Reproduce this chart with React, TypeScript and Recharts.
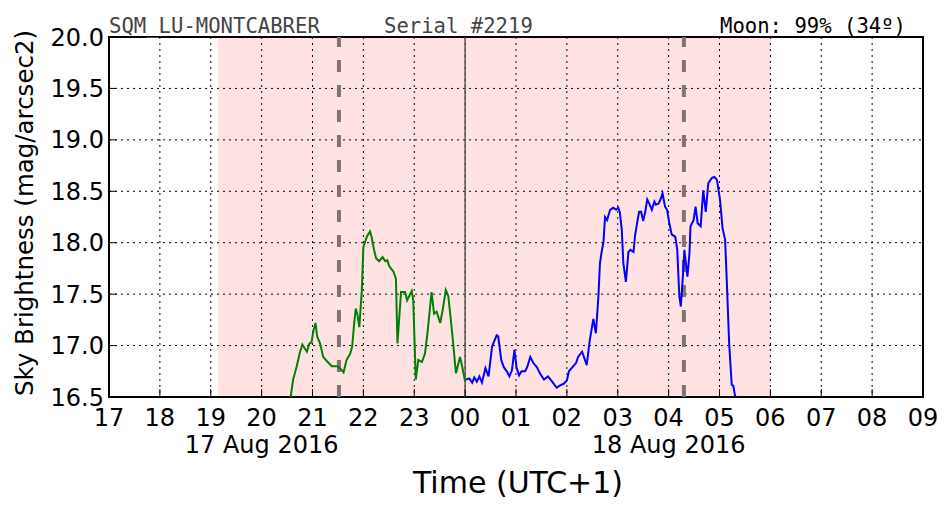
import { LineChart, Line, XAxis, YAxis, CartesianGrid, ReferenceArea, ReferenceLine } from 'recharts'

// hours counted from midnight of 17 Aug (24 = 00h on 18 Aug)
const hourTicks = [17, 18, 19, 20, 21, 22, 23, 24, 25, 26, 27, 28, 29, 30, 31, 32, 33]
const magTicks = [16.5, 17.0, 17.5, 18.0, 18.5, 19.0, 19.5, 20.0]
const dateTicks = [20, 28]
const dateLabels = ['17 Aug 2016', '18 Aug 2016']

const nightStart = 19.14
const nightEnd = 30.0
const moonMarks = [21.52, 28.3]
const midnight = 24

const greenTimes = [20.57, 20.62, 20.69, 20.75, 20.8, 20.89, 20.94, 20.98, 21.02, 21.06, 21.09, 21.15, 21.21, 21.28, 21.38, 21.48, 21.54, 21.61, 21.67, 21.74, 21.78, 21.82, 21.85, 21.88, 21.92, 21.97, 22.0, 22.07, 22.13, 22.16, 22.21, 22.25, 22.31, 22.38, 22.43, 22.47, 22.51, 22.59, 22.64, 22.67, 22.74, 22.82, 22.86, 22.95, 22.98, 23.03, 23.08, 23.15, 23.21, 23.26, 23.34, 23.39, 23.44, 23.51, 23.56, 23.62, 23.67, 23.74, 23.82, 23.9, 23.94, 24.0]
const greenValues = [16.5, 16.67, 16.8, 16.93, 17.01, 16.94, 17.02, 17.03, 17.15, 17.22, 17.09, 17.02, 16.89, 16.85, 16.8, 16.8, 16.78, 16.74, 16.86, 16.92, 16.99, 17.22, 17.36, 17.31, 17.18, 17.54, 17.96, 18.06, 18.11, 18.06, 17.93, 17.85, 17.82, 17.86, 17.82, 17.83, 17.77, 17.72, 17.65, 17.02, 17.52, 17.52, 17.44, 17.53, 17.44, 16.67, 16.86, 16.84, 16.92, 17.12, 17.52, 17.31, 17.33, 17.22, 17.35, 17.54, 17.48, 17.15, 16.73, 16.89, 16.8, 16.65]

const blueTimes = [24.02, 24.08, 24.14, 24.18, 24.23, 24.28, 24.33, 24.4, 24.46, 24.53, 24.57, 24.62, 24.65, 24.71, 24.76, 24.82, 24.87, 24.92, 24.97, 25.01, 25.06, 25.11, 25.18, 25.22, 25.28, 25.34, 25.41, 25.47, 25.55, 25.63, 25.71, 25.8, 25.86, 25.94, 26.0, 26.04, 26.11, 26.18, 26.22, 26.3, 26.39, 26.45, 26.52, 26.57, 26.62, 26.65, 26.68, 26.72, 26.75, 26.79, 26.85, 26.91, 26.97, 27.01, 27.04, 27.08, 27.11, 27.16, 27.21, 27.25, 27.31, 27.34, 27.39, 27.42, 27.46, 27.5, 27.54, 27.58, 27.62, 27.67, 27.72, 27.75, 27.8, 27.84, 27.88, 27.93, 27.97, 28.01, 28.06, 28.13, 28.17, 28.21, 28.24, 28.28, 28.31, 28.34, 28.37, 28.41, 28.43, 28.49, 28.53, 28.57, 28.63, 28.68, 28.73, 28.78, 28.85, 28.9, 28.95, 29.01, 29.06, 29.11, 29.14, 29.19, 29.24, 29.27, 29.31]
const blueValues = [16.67, 16.68, 16.64, 16.69, 16.65, 16.7, 16.64, 16.78, 16.7, 16.99, 17.04, 17.1, 17.09, 16.86, 16.79, 16.75, 16.7, 16.76, 16.96, 16.79, 16.71, 16.75, 16.75, 16.79, 16.89, 16.83, 16.79, 16.73, 16.67, 16.7, 16.65, 16.59, 16.61, 16.63, 16.66, 16.75, 16.79, 16.83, 16.89, 16.94, 16.81, 17.05, 17.26, 17.12, 17.48, 17.8, 17.9, 18.01, 18.25, 18.22, 18.32, 18.34, 18.32, 18.34, 18.3, 18.12, 17.8, 17.62, 17.91, 17.93, 17.91, 18.07, 18.22, 18.3, 18.3, 18.21, 18.3, 18.42, 18.38, 18.32, 18.4, 18.37, 18.38, 18.42, 18.48, 18.35, 18.32, 18.2, 18.08, 18.06, 17.93, 17.48, 17.38, 17.67, 17.93, 17.8, 17.67, 17.9, 18.16, 18.22, 18.35, 18.19, 18.16, 18.51, 18.3, 18.58, 18.63, 18.64, 18.61, 18.42, 18.14, 18.03, 17.67, 17.02, 16.62, 16.61, 16.5]

const greenData = greenTimes.map((t, i) => ({ t, mag: greenValues[i] }))
const blueData = blueTimes.map((t, i) => ({ t, mag: blueValues[i] }))

const font = '"DejaVu Sans", sans-serif'
const mono = '"DejaVu Sans Mono", monospace'
const tickLen = 8

function HourTick(props: any) {
  const { x, y, payload } = props
  const h = payload.value
  const label = String(h % 24).padStart(2, '0')
  const di = dateTicks.indexOf(h)
  return (
    <g>
      <line x1={x} x2={x} y1={y} y2={y - tickLen} stroke="#000" strokeWidth={1} />
      <text x={x} y={y + 29} textAnchor="middle" fontSize={24} fontFamily={font} fill="#000">{label}</text>
      {di >= 0 && (
        <text x={x} y={y + 56} textAnchor="middle" fontSize={24} fontFamily={font} fill="#000">{dateLabels[di]}</text>
      )}
    </g>
  )
}

function TopTick(props: any) {
  const { x, y } = props
  return <line x1={x} x2={x} y1={y} y2={y + tickLen} stroke="#000" strokeWidth={1} />
}

function MagTick(props: any) {
  const { x, y, payload } = props
  return (
    <g>
      <line x1={x} x2={x + tickLen} y1={y} y2={y} stroke="#000" strokeWidth={1} />
      <text x={x - 5} y={y} dy="0.355em" textAnchor="end" fontSize={24} fontFamily={font} fill="#000">
        {payload.value.toFixed(1)}
      </text>
    </g>
  )
}

function RightTick(props: any) {
  const { x, y } = props
  return <line x1={x} x2={x - tickLen} y1={y} y2={y} stroke="#000" strokeWidth={1} />
}

export default function App() {
  return (
    <div style={{ position: 'absolute', left: 0, top: 0, width: 952, height: 512, background: '#fff', fontFamily: font }}>
      <LineChart width={952} height={512} margin={{ top: 37, right: 29, bottom: 0, left: 0 }}>
        <ReferenceArea x1={nightStart} x2={nightEnd} y1={16.5} y2={20} fill="#ff0000" fillOpacity={0.11} stroke="none" />
        <CartesianGrid stroke="#000" strokeDasharray="2 4" strokeWidth={1} />
        <XAxis
          type="number"
          dataKey="t"
          domain={[17, 33]}
          ticks={hourTicks}
          allowDataOverflow
          height={115}
          tickLine={false}
          axisLine={false}
          tickSize={0}
          tickMargin={0}
          tick={<HourTick />}
          interval={0}
        />
        <XAxis
          xAxisId="top"
          orientation="top"
          type="number"
          dataKey="t"
          domain={[17, 33]}
          ticks={hourTicks}
          allowDataOverflow
          height={0}
          tickLine={false}
          axisLine={false}
          tickSize={0}
          tickMargin={0}
          tick={<TopTick />}
          interval={0}
        />
        <YAxis
          type="number"
          domain={[16.5, 20]}
          ticks={magTicks}
          allowDataOverflow
          width={109}
          tickLine={false}
          axisLine={false}
          tickSize={0}
          tickMargin={0}
          tick={<MagTick />}
          interval={0}
        />
        <YAxis
          yAxisId="right"
          orientation="right"
          type="number"
          domain={[16.5, 20]}
          ticks={magTicks}
          allowDataOverflow
          width={0}
          tickLine={false}
          axisLine={false}
          tickSize={0}
          tickMargin={0}
          tick={<RightTick />}
          interval={0}
        />
        {moonMarks.map((m) => (
          <ReferenceLine key={m} x={m} stroke="#7f7373" strokeWidth={4} strokeDasharray="12 13" />
        ))}
        <ReferenceLine x={midnight} stroke="#555" strokeWidth={1.5} />
        <Line data={greenData} dataKey="mag" type="linear" stroke="#008000" strokeWidth={2} dot={false} isAnimationActive={false} />
        <Line data={blueData} dataKey="mag" type="linear" stroke="#0000ff" strokeWidth={2} dot={false} isAnimationActive={false} />
        <ReferenceArea x1={17} x2={33} y1={16.5} y2={20} fill="none" stroke="#000" strokeWidth={2} />
      </LineChart>

      <div style={{ position: 'absolute', left: 109, top: 16, fontFamily: mono, fontSize: 20.6, lineHeight: '20.6px', color: '#444', whiteSpace: 'pre' }}>SQM_LU-MONTCABRER</div>
      <div style={{ position: 'absolute', left: 384, top: 16, fontFamily: mono, fontSize: 20.6, lineHeight: '20.6px', color: '#444', whiteSpace: 'pre' }}>Serial #2219</div>
      <div style={{ position: 'absolute', right: 46, top: 16, fontFamily: mono, fontSize: 20.6, lineHeight: '20.6px', color: '#000', whiteSpace: 'pre' }}>Moon: 99% (34º)</div>

      <div style={{ position: 'absolute', left: 518, top: 468, transform: 'translateX(-50%)', fontSize: 30, lineHeight: '30px', whiteSpace: 'nowrap' }}>Time (UTC+1)</div>
      <div style={{ position: 'absolute', left: 25, top: 213, transform: 'translate(-50%, -50%) rotate(-90deg)', fontSize: 24.5, lineHeight: '24px', whiteSpace: 'nowrap' }}>Sky Brightness (mag/arcsec2)</div>
    </div>
  )
}
